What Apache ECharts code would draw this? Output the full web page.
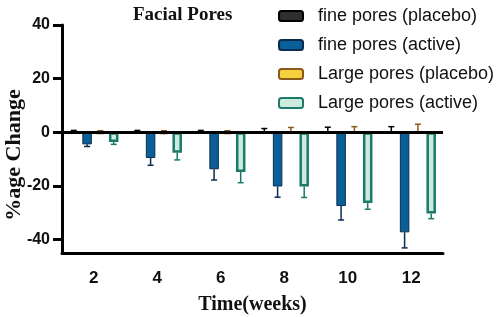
<!DOCTYPE html>
<html>
<head>
<meta charset="utf-8">
<script src="https://cdn.jsdelivr.net/npm/echarts@6/dist/echarts.min.js"></script>
<style>
  html, body { margin: 0; padding: 0; background: #fff; }
  #main { width: 498px; height: 317px; }
</style>
</head>
<body>
<div id="main"></div>
<script>
const weeks = ["2", "4", "6", "8", "10", "12"];
const seriesNames = ["fine pores (placebo)", "fine pores (active)", "Large pores (placebo)", "Large pores (active)"];

// mean % change
const finePlacebo = [0.3, 0.3, 0.3, 0.3, 0.3, 0.3];
const fineActive = [-4.5, -9.6, -13.8, -20.2, -27.5, -37.3];
const largePlacebo = [-0.7, -0.7, -0.7, -0.6, -0.5, -0.5];
const largeActive = [-3.6, -7.6, -14.8, -20.2, -26.4, -30.3];

// where each error bar cap sits
const finePlaceboCap = [0.7, 0.7, 0.7, 1.4, 1.9, 2.1];
const fineActiveCap = [-5.3, -12.3, -17.8, -24.2, -32.7, -43.1];
const largePlaceboCap = [0.6, 0.6, 0.6, 1.8, 2.1, 3.0];
const largeActiveCap = [-4.5, -10.3, -18.8, -24.3, -28.7, -32.2];

const yTicks = [-40, -20, 0, 20, 40];

const values = [finePlacebo, fineActive, largePlacebo, largeActive];
const caps = [finePlaceboCap, fineActiveCap, largePlaceboCap, largeActiveCap];

const styles = [
  { color: "#2e2e2e", borderColor: "#000000", borderWidth: 1 },
  { color: "#0b5f98", borderColor: "#0a2d4f", borderWidth: 1 },
  { color: "#f6d13e", borderColor: "#8a5a1c", borderWidth: 2 },
  { color: "#cdebdc", borderColor: "#1b7a6a", borderWidth: 2.5 }
];
const errColors = ["#000000", "#0a2d4f", "#8a5a1c", "#1b7a6a"];

const barWidth = 9.5;
const barGap = 0.4;

const chart = echarts.init(document.getElementById("main"));

const barSeries = values.map((vals, i) => ({
  name: seriesNames[i],
  type: "bar",
  data: vals,
  barWidth: barWidth,
  barGap: barGap * 100 + "%",
  itemStyle: styles[i],
  z: 2
}));

const errSeries = caps.map((capVals, i) => ({
  type: "custom",
  name: seriesNames[i] + " err",
  z: 1,
  silent: true,
  data: capVals.map((c, k) => [k, values[i][k], c]),
  renderItem: function (params, api) {
    const offset = (i - 1.5) * barWidth * (1 + barGap);
    const p0 = api.coord([api.value(0), api.value(1)]);
    const p1 = api.coord([api.value(0), api.value(2)]);
    const x = p0[0] + offset;
    const style = { stroke: errColors[i], lineWidth: 1.5 };
    return {
      type: "group",
      children: [
        { type: "line", shape: { x1: x, y1: p0[1], x2: x, y2: p1[1] }, style: style },
        { type: "line", shape: { x1: x - 3, y1: p1[1], x2: x + 3, y2: p1[1] }, style: style }
      ]
    };
  }
}));

// thick zero line
barSeries[0].markLine = {
  silent: true,
  symbol: "none",
  label: { show: false },
  lineStyle: { color: "#000", width: 3, type: "solid" },
  data: [{ yAxis: 0 }],
  z: 5
};

chart.setOption({
  animation: false,
  title: {
    text: "Facial Pores",
    left: 128,
    top: 1,
    textStyle: { fontFamily: "Liberation Serif", fontWeight: "bold", fontSize: 19, color: "#111" }
  },
  legend: {
    data: seriesNames,
    orient: "vertical",
    left: 273,
    top: 2,
    itemWidth: 24,
    itemHeight: 10,
    itemGap: 11,
    textStyle: { fontFamily: "Liberation Sans", fontSize: 18, color: "#111", padding: [0, 0, 0, 10] }
  },
  grid: { left: 62, right: 55, top: 25, bottom: 64, containLabel: false, outerBoundsMode: "none" },
  xAxis: {
    type: "category",
    data: weeks,
    name: "Time(weeks)",
    nameLocation: "middle",
    nameGap: 42,
    nameMoveOverlap: false,
    nameTextStyle: { fontFamily: "Liberation Serif", fontWeight: "bold", fontSize: 20, color: "#111" },
    axisLine: { onZero: false, lineStyle: { color: "#000", width: 3 } },
    axisTick: { alignWithLabel: true, length: 9, lineStyle: { width: 3, color: "#000" } },
    axisLabel: { fontFamily: "Liberation Sans", fontWeight: "bold", fontSize: 17, color: "#111", margin: 17 }
  },
  yAxis: {
    type: "value",
    min: -45,
    max: 40,
    name: "%age Change",
    nameLocation: "middle",
    nameGap: 37,
    nameMoveOverlap: false,
    nameTextStyle: { fontFamily: "Liberation Serif", fontWeight: "bold", fontSize: 22, color: "#111", padding: [0, 32, 0, 0] },
    splitLine: { show: false },
    axisLine: { show: true, lineStyle: { color: "#000", width: 3 } },
    axisTick: { show: true, length: 9, customValues: yTicks, lineStyle: { width: 3, color: "#000" } },
    axisLabel: { customValues: yTicks, fontFamily: "Liberation Sans", fontWeight: "bold", fontSize: 16, color: "#111", margin: 12 }
  },
  series: [...barSeries, ...errSeries]
});
</script>
</body>
</html>
